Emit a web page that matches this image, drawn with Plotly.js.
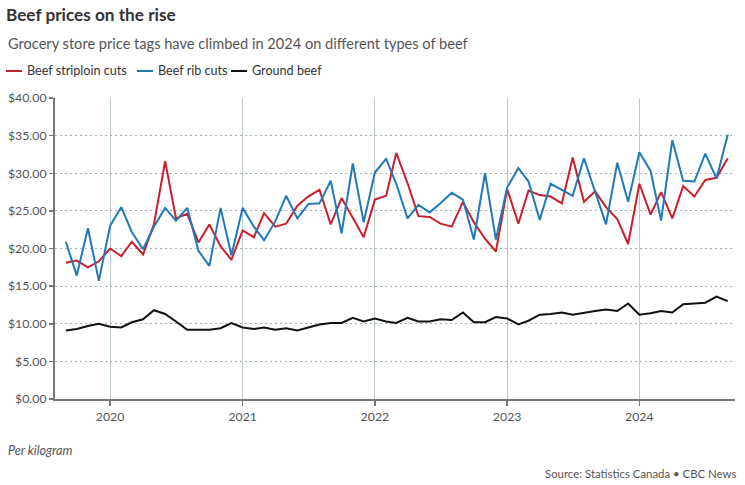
<!DOCTYPE html>
<html>
<head>
<meta charset="utf-8">
<script src="https://cdn.plot.ly/plotly-3.0.1.min.js"></script>
<style>
  html, body { margin: 0; padding: 0; background: #fff; }
  #chart { width: 745px; height: 485px; }
</style>
</head>
<body>
<div id="chart"></div>
<script>
const months = [
  '2019-09','2019-10','2019-11','2019-12',
  '2020-01','2020-02','2020-03','2020-04','2020-05','2020-06','2020-07','2020-08','2020-09','2020-10','2020-11','2020-12',
  '2021-01','2021-02','2021-03','2021-04','2021-05','2021-06','2021-07','2021-08','2021-09','2021-10','2021-11','2021-12',
  '2022-01','2022-02','2022-03','2022-04','2022-05','2022-06','2022-07','2022-08','2022-09','2022-10','2022-11','2022-12',
  '2023-01','2023-02','2023-03','2023-04','2023-05','2023-06','2023-07','2023-08','2023-09','2023-10','2023-11','2023-12',
  '2024-01','2024-02','2024-03','2024-04','2024-05','2024-06','2024-07','2024-08','2024-09'
];

const striploin = [
  18.1, 18.4, 17.5, 18.3,
  20.0, 19.0, 20.9, 19.2, 23.2, 31.6, 24.0, 24.6, 20.8, 23.2, 20.3, 18.5,
  22.4, 21.5, 24.7, 22.9, 23.3, 25.7, 26.9, 27.8, 23.2, 26.7, 24.1, 21.5,
  26.5, 27.0, 32.7, 28.7, 24.3, 24.2, 23.3, 22.9, 26.2, 23.5, 21.3, 19.6,
  27.9, 23.3, 27.7, 27.1, 26.9, 26.0, 32.1, 26.2, 27.6, 25.5, 23.9, 20.6,
  28.6, 24.5, 27.5, 24.0, 28.3, 26.9, 29.1, 29.4, 32.0
];

const ribCuts = [
  20.9, 16.4, 22.7, 15.7,
  23.0, 25.5, 22.2, 19.9, 22.9, 25.4, 23.7, 25.4, 19.7, 17.7, 25.4, 19.1,
  25.4, 22.9, 21.1, 23.6, 27.0, 24.0, 25.9, 26.0, 29.0, 22.0, 31.3, 23.5,
  30.1, 31.9, 28.6, 24.0, 25.8, 24.8, 26.0, 27.4, 26.5, 21.2, 30.0, 21.2,
  28.1, 30.7, 28.9, 23.8, 28.6, 27.8, 27.0, 32.0, 27.6, 23.2, 31.4, 26.2,
  32.8, 30.3, 23.7, 34.4, 29.0, 28.9, 32.6, 29.3, 35.1
];

const groundBeef = [
  9.1, 9.3, 9.7, 10.0,
  9.6, 9.5, 10.2, 10.6, 11.8, 11.3, 10.3, 9.2, 9.2, 9.2, 9.4, 10.1,
  9.5, 9.3, 9.5, 9.2, 9.4, 9.1, 9.5, 9.9, 10.1, 10.1, 10.8, 10.3,
  10.7, 10.3, 10.1, 10.8, 10.3, 10.3, 10.6, 10.5, 11.5, 10.2, 10.2, 10.9,
  10.7, 9.9, 10.4, 11.2, 11.3, 11.5, 11.2, 11.5, 11.7, 11.9, 11.7, 12.7,
  11.2, 11.4, 11.7, 11.5, 12.6, 12.7, 12.8, 13.6, 13.0
];

const seriesNames = ['Beef striploin cuts', 'Beef rib cuts', 'Ground beef'];
const seriesColors = ['#c8202f', '#2179b6', '#111111'];
const seriesValues = [striploin, ribCuts, groundBeef];

const FONT = 'Lato, "Noto Sans", sans-serif';

// plot-area geometry in pixels (used only to place header/footer text)
const PL = 55, PR = 735, PT = 98, PB = 399;
const px2x = p => (p - PL) / (PR - PL);
const px2y = p => 1 + (PT - p) / (PB - PT);

const traces = seriesValues.map((vals, i) => ({
  type: 'scatter',
  mode: 'lines',
  name: seriesNames[i],
  x: months,
  y: vals,
  line: { color: seriesColors[i], width: 2 },
  showlegend: false
}));

// manual legend (short line swatches like the reference)
const legendX = [6, 137, 231];
const legendY = 71;
const shapes = legendX.map((lx, i) => ({
  type: 'line',
  xref: 'paper', yref: 'paper',
  x0: px2x(lx), x1: px2x(lx + 16),
  y0: px2y(legendY), y1: px2y(legendY),
  line: { color: seriesColors[i], width: 2 }
}));
const legendAnns = legendX.map((lx, i) => ({
  text: seriesNames[i],
  xref: 'paper', yref: 'paper',
  x: px2x(lx + 19), y: px2y(legendY),
  xanchor: 'left', yanchor: 'middle',
  showarrow: false,
  font: { family: FONT, size: 12.6, color: '#333' }
}));

const layout = {
  width: 745,
  height: 485,
  paper_bgcolor: '#ffffff',
  plot_bgcolor: '#ffffff',
  font: { family: FONT, color: '#444', size: 12 },
  margin: { l: PL, r: 745 - PR, t: PT, b: 485 - PB },
  title: {
    text: '<b>Beef prices on the rise</b>',
    font: { family: FONT, size: 17.2, color: '#333' },
    xref: 'container', x: 0.008, xanchor: 'left',
    yref: 'container', y: 1 - 15 / 485, yanchor: 'middle'
  },
  showlegend: false,
  xaxis: {
    type: 'date',
    range: ['2019-08-02', '2024-09-21'],
    tick0: '2020-01-01',
    dtick: 'M12',
    tickformat: '%Y',
    showgrid: true,
    gridcolor: '#bcc8d0',
    gridwidth: 1,
    zeroline: false,
    showline: true,
    linecolor: '#777777',
    linewidth: 2,
    ticks: 'outside',
    ticklen: 5,
    tickwidth: 1.5,
    tickcolor: '#777777',
    tickfont: { family: FONT, size: 12.3, color: '#555' },
    fixedrange: true
  },
  yaxis: {
    range: [0, 40],
    dtick: 5,
    tick0: 0,
    tickformat: '$.2f',
    showgrid: true,
    gridcolor: '#a7afb5',
    griddash: '2px,3px',
    gridwidth: 1,
    zeroline: false,
    showline: true,
    linecolor: '#777777',
    linewidth: 2,
    ticks: 'outside',
    ticklen: 4,
    tickwidth: 1.5,
    tickcolor: '#777777',
    tickfont: { family: FONT, size: 12.3, color: '#555' },
    fixedrange: true
  },
  shapes: shapes,
  annotations: legendAnns.concat([
    {
      text: 'Grocery store price tags have climbed in 2024 on different types of beef',
      xref: 'paper', yref: 'paper',
      x: px2x(6), y: px2y(43),
      xanchor: 'left', yanchor: 'middle',
      showarrow: false,
      font: { family: FONT, size: 14.6, color: '#555' }
    },
    {
      text: '<i>Per kilogram</i>',
      xref: 'paper', yref: 'paper',
      x: px2x(6), y: px2y(450),
      xanchor: 'left', yanchor: 'middle',
      showarrow: false,
      font: { family: FONT, size: 12.6, color: '#555' }
    },
    {
      text: 'Source: Statistics Canada \u2022 CBC News',
      xref: 'paper', yref: 'paper',
      x: px2x(738), y: px2y(473),
      xanchor: 'right', yanchor: 'middle',
      showarrow: false,
      font: { family: FONT, size: 11.4, color: '#555' }
    }
  ])
};

Plotly.newPlot('chart', traces, layout, { displayModeBar: false, staticPlot: true });
</script>
</body>
</html>
